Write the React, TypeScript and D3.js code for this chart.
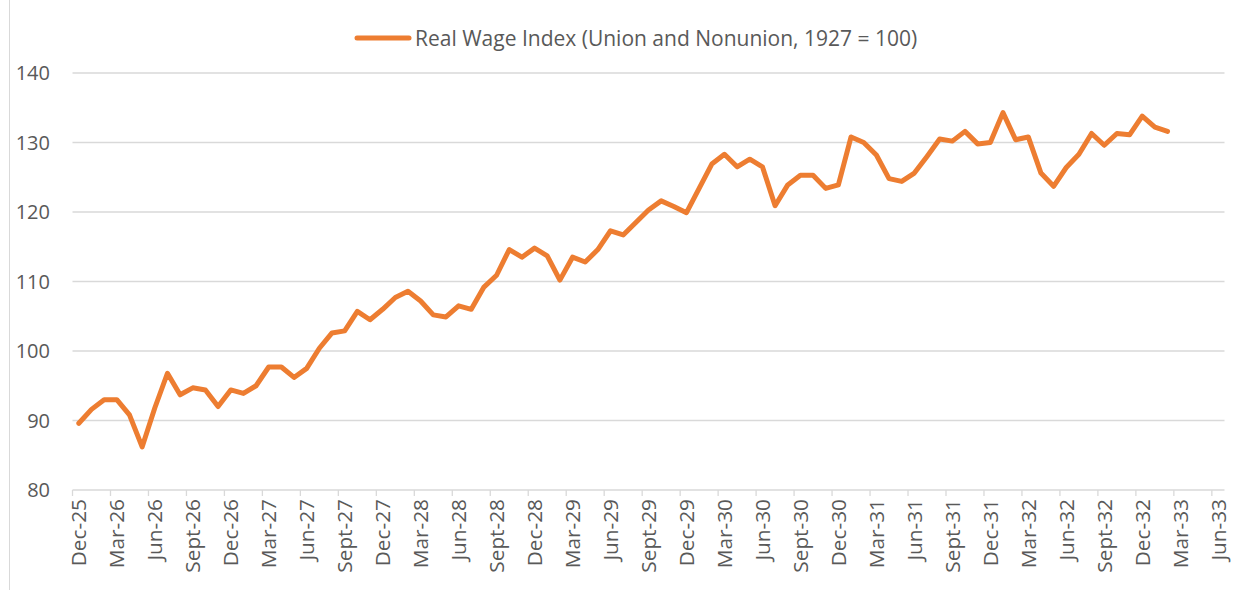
import React from "react";
import * as d3 from "d3";

// Monthly real wage index, Dec-1925 .. Feb-1933
const startLabel = "Dec-25";
const wageIndex: number[] = [
  89.6, 91.6, 93.0, 93.0, 90.8, 86.2, 91.8, 96.8, 93.7, 94.7, 94.4, 92.0,
  94.4, 93.9, 95.0, 97.7, 97.7, 96.2, 97.5, 100.4, 102.6, 102.9, 105.7, 104.5,
  106.0, 107.7, 108.6, 107.2, 105.2, 104.9, 106.5, 106.0, 109.2, 110.9, 114.6, 113.5,
  114.8, 113.7, 110.2, 113.5, 112.8, 114.6, 117.3, 116.7, 118.5, 120.3, 121.6, 120.8,
  119.9, 123.4, 126.9, 128.3, 126.5, 127.6, 126.5, 120.9, 123.9, 125.3, 125.3, 123.4,
  123.9, 130.8, 130.0, 128.2, 124.8, 124.4, 125.6, 128.0, 130.5, 130.2, 131.6, 129.8,
  130.0, 134.3, 130.4, 130.8, 125.6, 123.7, 126.4, 128.3, 131.3, 129.6, 131.3, 131.1,
  133.8, 132.2, 131.6,
];

const xTickLabels: string[] = [
  "Dec-25", "Mar-26", "Jun-26", "Sept-26", "Dec-26", "Mar-27", "Jun-27", "Sept-27",
  "Dec-27", "Mar-28", "Jun-28", "Sept-28", "Dec-28", "Mar-29", "Jun-29", "Sept-29",
  "Dec-29", "Mar-30", "Jun-30", "Sept-30", "Dec-30", "Mar-31", "Jun-31", "Sept-31",
  "Dec-31", "Mar-32", "Jun-32", "Sept-32", "Dec-32", "Mar-33", "Jun-33",
];
const yTicks: number[] = [80, 90, 100, 110, 120, 130, 140];
const seriesName = "Real Wage Index (Union and Nonunion, 1927 = 100)";

const W = 1243;
const H = 590;
const left = 72.5;
const right = 1224.5;
const top = 73;
const bottom = 490;
const totalMonths = 91; // Dec-25 .. end of Jun-33 slot
const TEXT = "#595959";
const GRID = "#D9D9D9";
const ORANGE = "#ED7D31";
const FONT = "'Open Sans', sans-serif";

export default function App() {
  const x = d3.scaleLinear().domain([0, totalMonths]).range([left, right]);
  const y = d3.scaleLinear().domain([80, 140]).range([bottom, top]);

  const line = d3
    .line<number>()
    .x((_, i) => x(i + 0.5))
    .y((d) => y(d));

  return (
    <svg
      width={W}
      height={H}
      style={{ position: "absolute", left: 0, top: 0, background: "#fff" }}
    >
      <line x1={9.5} x2={9.5} y1={0} y2={H} stroke={GRID} strokeWidth={1} />
      {/* gridlines */}
      {yTicks.map((t) => (
        <line
          key={"g" + t}
          x1={left}
          x2={right}
          y1={y(t)}
          y2={y(t)}
          stroke={GRID}
          strokeWidth={1.3}
        />
      ))}
      {/* y labels */}
      {yTicks.map((t) => (
        <text
          key={"yl" + t}
          x={50}
          y={y(t)}
          dy="0.36em"
          textAnchor="end"
          fontFamily={FONT}
          fontSize={20}
          fill={TEXT}
        >
          {t}
        </text>
      ))}
      {/* x ticks & labels */}
      {xTickLabels.map((lab, k) => {
        const m = k * 3;
        return (
          <g key={"xt" + k}>
            <line
              x1={x(m)}
              x2={x(m)}
              y1={bottom}
              y2={bottom + 6}
              stroke={GRID}
              strokeWidth={1.3}
            />
            <text
              transform={`translate(${x(m + 0.5)},${bottom + 9}) rotate(-90)`}
              dy="0.36em"
              textAnchor="end"
              fontFamily={FONT}
              fontSize={20.8}
              fill={TEXT}
            >
              {lab}
            </text>
          </g>
        );
      })}
      {/* series */}
      <path
        d={line(wageIndex) || ""}
        fill="none"
        stroke={ORANGE}
        strokeWidth={5}
        strokeLinejoin="round"
        strokeLinecap="round"
      />
      {/* legend */}
      <line
        x1={357}
        x2={409}
        y1={38}
        y2={38}
        stroke={ORANGE}
        strokeWidth={5}
        strokeLinecap="round"
      />
      <text
        x={415}
        y={38}
        dy="0.36em"
        fontFamily={FONT}
        fontSize={21}
        fill={TEXT}
        data-start={startLabel}
      >
        {seriesName}
      </text>
    </svg>
  );
}
